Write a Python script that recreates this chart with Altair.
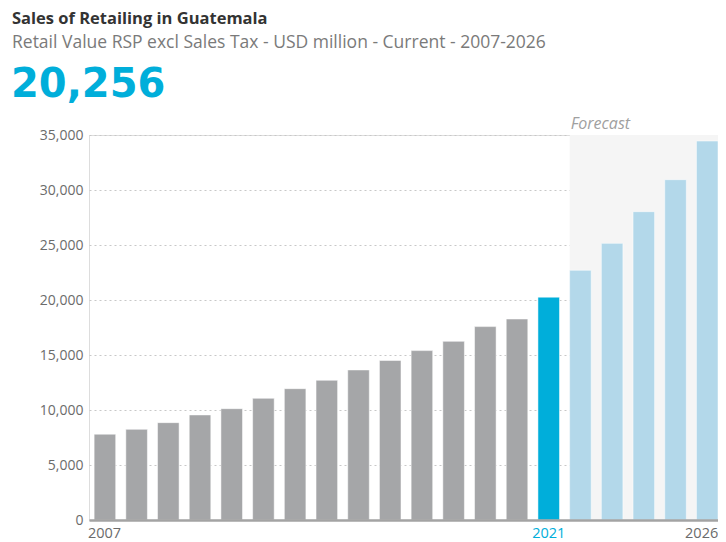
import altair as alt
import pandas as pd

years = list(range(2007, 2027))
values = [7800, 8240, 8850, 9550, 10120, 11060, 11940, 12700, 13640, 14500,
          15400, 16240, 17580, 18270, 20256, 22700, 25150, 28030, 30940, 34450]
phase = ["Historic"] * 14 + ["Current"] + ["Forecast"] * 5
shown_labels = ["2007", "2021", "2026"]
y_ticks = [0, 5000, 10000, 15000, 20000, 25000, 30000, 35000]

title_text = "Sales of Retailing in Guatemala"
subtitle_text = "Retail Value RSP excl Sales Tax - USD million - Current - 2007-2026"
headline_text = "20,256"
forecast_label = "Forecast"

year_str = [str(y) for y in years]
df = pd.DataFrame({"year": year_str, "value": values, "phase": phase})
shade = pd.DataFrame({"year": ["2022"], "y0": [0], "y1": [35000], "label": [forecast_label]})

FONT = "Open Sans"
W, H = 629, 385

xscale = alt.Scale(paddingInner=0.32, paddingOuter=0.081, align=1)
yscale = alt.Scale(domain=[0, 35000])

first, last = year_str[0], year_str[-1]
label_expr = "indexof(['" + "','".join(shown_labels) + "'], datum.label) >= 0 ? datum.label : ''"
t_first = f"datum.label == '{first}'"
t_last = f"datum.label == '{last}'"

xaxis = alt.Axis(
    title=None, labelExpr=label_expr, labelAngle=0, ticks=False, grid=False,
    domainColor="#a3a3a3", domainWidth=2.5, labelFont=FONT, labelFontSize=14.5,
    labelColor={"condition": {"test": "datum.label == '2021'", "value": "#00AEDA"}, "value": "#6b6b6b"},
    labelAlign={"condition": [{"test": t_first, "value": "left"}, {"test": t_last, "value": "right"}],
                "value": "center"},
    labelOffset={"condition": [{"test": t_first, "value": -17}, {"test": t_last, "value": 11}],
                 "value": 0},
    labelPadding=6,
)
yaxis = alt.Axis(
    title=None, values=y_ticks, labelExpr="format(datum.value, ',')", ticks=False,
    domain=False, labelFont=FONT, labelFontSize=14, labelColor="#6b6b6b",
    labelPadding=6, grid=True, gridDash=[2, 3], gridColor="#c8c8c8", gridWidth=1,
)

shade_layer = alt.Chart(shade).mark_rect(color="#f5f5f5").encode(
    x=alt.X("year:N", scale=xscale, axis=xaxis, sort=year_str, bandPosition=0),
    x2=alt.value(W),
    y=alt.Y("y0:Q", scale=yscale, axis=yaxis),
    y2="y1:Q",
)

shade_text = alt.Chart(shade).mark_text(
    align="left", baseline="alphabetic", font=FONT, fontSize=16, fontStyle="italic", color="#a0a0a0", dx=1
).encode(
    x=alt.X("year:N", scale=xscale, axis=xaxis, sort=year_str, bandPosition=0),
    y=alt.value(-6),
    text="label:N",
)

bars = alt.Chart(df).mark_bar(stroke="#ffffff", strokeWidth=0.5).encode(
    x=alt.X("year:N", scale=xscale, axis=xaxis, sort=year_str),
    y=alt.Y("value:Q", scale=yscale, axis=yaxis),
    color=alt.Color("phase:N", scale=alt.Scale(domain=["Historic", "Current", "Forecast"],
                                               range=["#A5A6A8", "#00AEDA", "#B3D8EA"]), legend=None),
)

hdr = pd.DataFrame({"t": [title_text]})
title_layer = alt.Chart(hdr).mark_text(
    align="left", baseline="alphabetic", font=FONT, fontSize=16.5, fontWeight="bold", color="#333333"
).encode(x=alt.value(-77), y=alt.value(-111), text="t:N")

sub = pd.DataFrame({"t": [subtitle_text]})
sub_layer = alt.Chart(sub).mark_text(
    align="left", baseline="alphabetic", font=FONT, fontSize=17.5, color="#7a7a7a"
).encode(x=alt.value(-77), y=alt.value(-87), text="t:N")

big = pd.DataFrame({"t": [headline_text]})
big_layer = alt.Chart(big).mark_text(
    align="left", baseline="alphabetic", font="DejaVu Sans", fontSize=40, fontWeight="bold", color="#00AEDA"
).encode(x=alt.value(-78), y=alt.value(-38), text="t:N")

chart = alt.layer(shade_layer, shade_text, bars, title_layer, sub_layer, big_layer).properties(
    width=W, height=H,
    padding={"left": 81, "top": 127, "right": 0, "bottom": 22},
    autosize=alt.AutoSizeParams(type="none"),
).configure_view(stroke=None).configure(background="#ffffff")

chart.save("out.html", embed_options={"renderer": "svg", "actions": False})
